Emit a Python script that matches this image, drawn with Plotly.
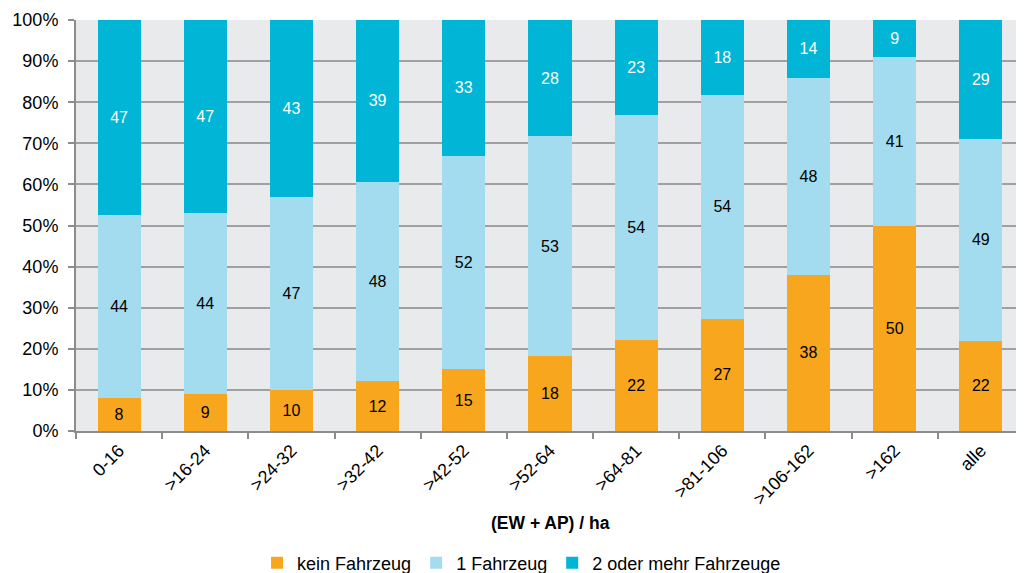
import plotly.graph_objects as go

categories = ["0-16", ">16-24", ">24-32", ">32-42", ">42-52", ">52-64", ">64-81", ">81-106", ">106-162", ">162", "alle"]
kein = [8, 9, 10, 12, 15, 18, 22, 27, 38, 50, 22]
ein = [44, 44, 47, 48, 52, 53, 54, 54, 48, 41, 49]
zwei = [47, 47, 43, 39, 33, 28, 23, 18, 14, 9, 29]
series_names = ["kein Fahrzeug", "1 Fahrzeug", "2 oder mehr Fahrzeuge"]
colors = ["#F8A61E", "#A2DCEE", "#00B5D5"]
text_colors = ["#000000", "#000000", "#FFFFFF"]

FONT = "Liberation Sans, Arial, sans-serif"

fig = go.Figure()
for name, vals, col, tcol in zip(series_names, [kein, ein, zwei], colors, text_colors):
    fig.add_trace(go.Bar(
        x=categories, y=vals, name=name,
        marker=dict(color=col, line=dict(width=0)),
        text=vals, texttemplate="%{text}", textposition="inside",
        insidetextanchor="middle", textangle=0, constraintext="none",
        textfont=dict(color=tcol, size=16, family=FONT),
        hoverinfo="skip",
    ))

# page body has an 8px default margin; the figure is shifted accordingly and
# made a bit taller so the legend (cut at the bottom in the original) fits.
fig.update_layout(
    barmode="stack", barnorm="percent", bargap=0.5,
    width=1016, height=590,
    margin=dict(l=68, r=0, t=12, b=167),
    paper_bgcolor="white", plot_bgcolor="#E9EAEB",
    font=dict(family=FONT, size=18, color="#000000"),
    showlegend=True,
    legend=dict(orientation="h", x=0.47, xanchor="center", y=-0.321, yanchor="middle",
                font=dict(size=18), traceorder="normal", bgcolor="rgba(0,0,0,0)",
                itemwidth=30),
)
fig.update_yaxes(range=[0, 100], dtick=10, ticksuffix="%", showgrid=True,
                 gridcolor="#A0A0A0", gridwidth=1.5, showline=True, linecolor="#8C8C8C",
                 linewidth=2, ticks="outside", ticklen=6, tickcolor="#8C8C8C", tickwidth=1.5,
                 ticklabelstandoff=6,
                 tickfont=dict(size=18), zeroline=False, automargin=False)
fig.update_xaxes(tickangle=-45, showline=True, linecolor="#8C8C8C", linewidth=2,
                 ticks="outside", tickson="boundaries", ticklen=6, tickcolor="#8C8C8C",
                 tickwidth=1.5, tickfont=dict(size=18), automargin=False)
fig.add_annotation(text="<b>(EW + AP) / ha</b>", xref="paper", yref="paper",
                   x=0.5, y=-0.224, xanchor="center", yanchor="middle",
                   showarrow=False, font=dict(size=17.5, family=FONT))

fig.write_html("out.html")
